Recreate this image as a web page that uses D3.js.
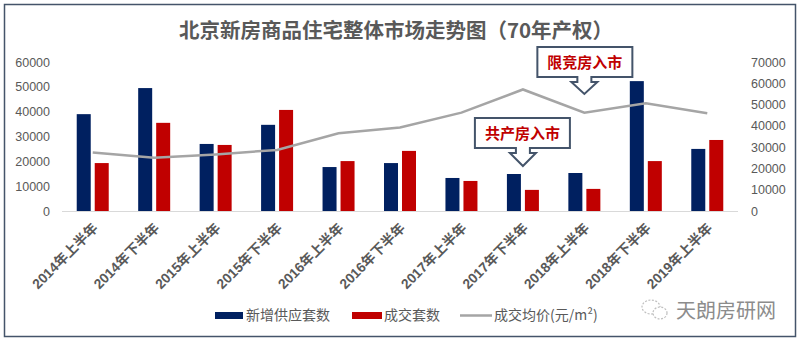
<!DOCTYPE html>
<html><head><meta charset="utf-8">
<script src="https://cdn.jsdelivr.net/npm/d3@7"></script>
<style>body{margin:0;background:#fff}</style>
</head><body>
<svg id="c" width="801" height="344"></svg>
<script>
const categories = ["2014年上半年","2014年下半年","2015年上半年","2015年下半年","2016年上半年","2016年下半年","2017年上半年","2017年下半年","2018年上半年","2018年下半年","2019年上半年"];
const supply = [39000, 49500, 27000, 34700, 17700, 19300, 13300, 14900, 15300, 52300, 25000];
const sales = [19300, 35500, 26600, 40700, 20100, 24200, 12100, 8500, 8900, 20100, 28600];
const price = [27500, 25000, 26600, 28700, 36500, 39200, 46200, 57100, 46200, 50600, 45900];
const leftTicks = [0,10000,20000,30000,40000,50000,60000];
const rightTicks = [0,10000,20000,30000,40000,50000,60000,70000];
const seriesNames = ["新增供应套数","成交套数","成交均价(元/m²)"];
const title = "北京新房商品住宅整体市场走势图（70年产权）";
const callouts = [{cat:"2017年下半年", text:"共产房入市"},{cat:"2018年上半年", text:"限竞房入市"}];

const svg = d3.select("#c");
const font = "'Liberation Sans','Noto Sans CJK SC',sans-serif";
const gray = "#595959";

svg.append("rect").attr("x",4.5).attr("y",4.5).attr("width",791).attr("height",332)
  .attr("fill","#fff").attr("stroke","#44546a").attr("stroke-width",1.5);

svg.append("text").attr("x",396).attr("y",38).attr("text-anchor","middle")
  .attr("font-family","'Noto Sans CJK SC',sans-serif").attr("font-weight","bold")
  .attr("font-size",20.5).attr("fill",gray).text(title);

const x = d3.scaleBand().domain(categories).range([62,738]);
const xs = d3.scaleBand().domain(["supply","sales"]).range([-16,16]).paddingInner(0.222);
const yL = d3.scaleLinear().domain([0,60000]).range([211,62]);
const yR = d3.scaleLinear().domain([0,70000]).range([211,62]);
const cx = c => x(c) + x.bandwidth()/2;

// baseline
svg.append("line").attr("x1",62).attr("x2",738).attr("y1",yL(0)+0.5).attr("y2",yL(0)+0.5)
  .attr("stroke","#d9d9d9").attr("stroke-width",1);

// left axis
const gl = svg.append("g").attr("transform","translate(50,0)")
  .call(d3.axisLeft(yL).tickValues(leftTicks).tickSize(0).tickPadding(0).tickFormat(d3.format("d")));
gl.select(".domain").remove();
gl.selectAll("text").attr("font-family",font).attr("font-size",12.5).attr("fill",gray);

const gr = svg.append("g").attr("transform","translate(751,0)")
  .call(d3.axisRight(yR).tickValues(rightTicks).tickSize(0).tickPadding(0).tickFormat(d3.format("d")));
gr.select(".domain").remove();
gr.selectAll("text").attr("font-family",font).attr("font-size",12.5).attr("fill",gray);

// bars
const g = svg.append("g");
categories.forEach((c,i)=>{
  g.append("rect").attr("x",cx(c)+xs("supply")).attr("width",xs.bandwidth())
    .attr("y",yL(supply[i])).attr("height",yL(0)-yL(supply[i])).attr("fill","#002060");
  g.append("rect").attr("x",cx(c)+xs("sales")).attr("width",xs.bandwidth())
    .attr("y",yL(sales[i])).attr("height",yL(0)-yL(sales[i])).attr("fill","#c00000");
});

// line
svg.append("path").datum(price)
  .attr("d", d3.line().x((d,i)=>cx(categories[i])).y(d=>yR(d)))
  .attr("fill","none").attr("stroke","#a5a5a5").attr("stroke-width",2.5);

// x labels
categories.forEach(c=>{
  svg.append("text").attr("transform",`translate(${cx(c)+6},229) rotate(-45)`)
    .attr("text-anchor","end").attr("font-family",font).attr("font-weight","bold")
    .attr("font-size",13.8).attr("fill",gray).text(c);
});

// callouts
callouts.forEach(co=>{
  const ci = categories.indexOf(co.cat);
  const tx = cx(co.cat);
  let bx, by, bw=95, bh=30, tip;
  if (co.text==="共产房入市"){ bx = tx-48; by=118; tip=166; }
  else { bx = tx-47; by=47; tip=94; }
  const mx = tx;
  const p = [[bx,by],[bx+bw,by],[bx+bw,by+bh],[mx+7,by+bh],[mx+7,by+bh+5],[mx+13,by+bh+5],[mx,tip],
    [mx-13,by+bh+5],[mx-7,by+bh+5],[mx-7,by+bh],[bx,by+bh]];
  svg.append("path").attr("d","M"+p.map(d=>d.join(",")).join("L")+"Z")
    .attr("fill","#fff").attr("stroke","#44546a").attr("stroke-width",2);
  svg.append("text").attr("x",bx+bw/2).attr("y",by+21).attr("text-anchor","middle")
    .attr("font-family","'Noto Sans CJK SC',sans-serif").attr("font-weight","bold")
    .attr("font-size",15).attr("fill","#c00000").text(co.text);
});

// legend
const lg = svg.append("g").attr("font-family","'Noto Sans CJK SC',sans-serif").attr("font-size",14).attr("fill",gray);
lg.append("rect").attr("x",215).attr("y",312).attr("width",28).attr("height",7).attr("fill","#002060");
lg.append("text").attr("x",246).attr("y",320).text(seriesNames[0]);
lg.append("rect").attr("x",352).attr("y",312).attr("width",30).attr("height",7).attr("fill","#c00000");
lg.append("text").attr("x",384).attr("y",320).text(seriesNames[1]);
lg.append("line").attr("x1",460).attr("x2",492).attr("y1",315.5).attr("y2",315.5).attr("stroke","#a5a5a5").attr("stroke-width",2.5);
lg.append("text").attr("x",494).attr("y",320).text(seriesNames[2]);

// watermark
const wm = svg.append("g");
wm.append("ellipse").attr("cx",651).attr("cy",307).attr("rx",9).attr("ry",7).attr("fill","none").attr("stroke","#bfbfbf").attr("stroke-width",1.2).attr("stroke-dasharray","2,1.5");
wm.append("ellipse").attr("cx",660).attr("cy",313).attr("rx",7).attr("ry",6).attr("fill","#fff").attr("stroke","#bfbfbf").attr("stroke-width",1.2).attr("stroke-dasharray","2,1.5");
wm.append("text").attr("x",676).attr("y",318).attr("font-family","'Noto Sans CJK SC',sans-serif")
  .attr("font-size",20).attr("fill","#8c8c8c").text("天朗房研网");
</script>
</body></html>
